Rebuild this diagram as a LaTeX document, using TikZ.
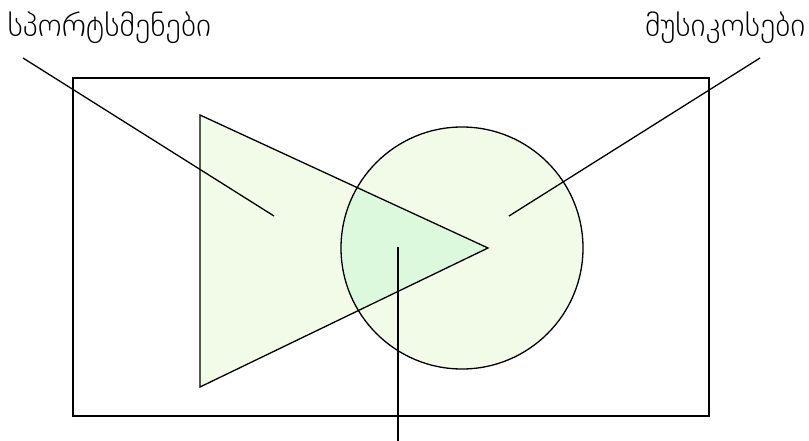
\documentclass[tikz,border=0pt]{standalone}
\usepackage{fontspec}
\newfontfamily\geofont{DejaVu Sans ExtraLight}
\usepackage{tikz}
\definecolor{setfill}{HTML}{F1FBE7}
\definecolor{bothfill}{HTML}{DDF9DD}

\begin{document}
\begin{tikzpicture}[x=1pt, y=-1pt, line width=1.3pt, font=\geofont\fontsize{32}{38}\selectfont]
		\useasboundingbox (0,0) rectangle (809,441);
		% universe
		\draw (73,78) rectangle (709,416);
		% sets
		\coordinate (top) at (200,115);
		\coordinate (tip) at (488,248);
		\coordinate (bot) at (200,387);
		\coordinate (mid) at (462,248);
		\fill[setfill] (top) -- (tip) -- (bot) -- cycle;
		\fill[setfill] (mid) circle (121);
		\begin{scope}
			\clip (top) -- (tip) -- (bot) -- cycle;
			\fill[bothfill] (mid) circle (121);
		\end{scope}
		\draw (top) -- (tip) -- (bot) -- cycle;
		\draw (mid) circle (121);
		% labels
		\node[anchor=base west, inner sep=0] (sport) at (7,37) {სპორტსმენები};
		\node[anchor=base east, inner sep=0] (music) at (806,37) {მუსიკოსები};
		\coordinate (sportfrom) at (23,58);
		\coordinate (sportto) at (274,216);
		\coordinate (musicfrom) at (760,58);
		\coordinate (musicto) at (509,216);
		\coordinate (bothfrom) at (398,247);
		\coordinate (bothto) at (398,441);
		\draw (sportfrom) -- (sportto);
		\draw (musicfrom) -- (musicto);
		\draw (bothfrom) -- (bothto);
	\end{tikzpicture}
\end{document}
